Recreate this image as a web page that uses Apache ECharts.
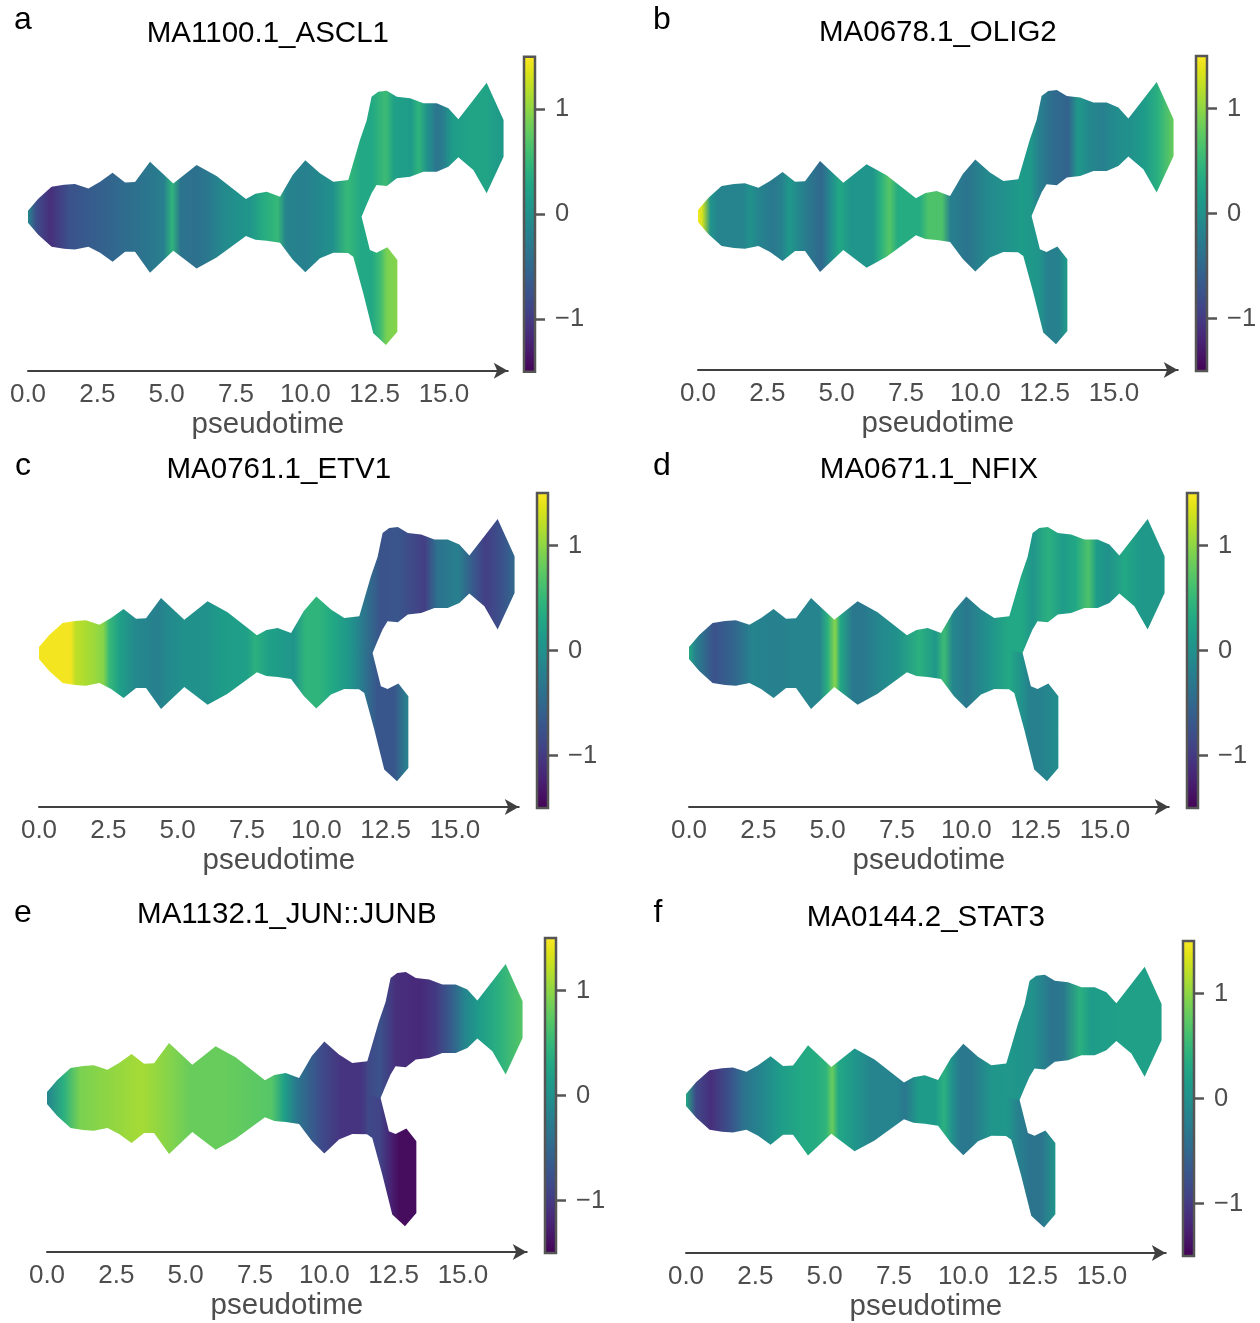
<!DOCTYPE html>
<html><head><meta charset="utf-8">
<script src="https://cdn.jsdelivr.net/npm/echarts@6/dist/echarts.min.js"></script>
<style>html,body{margin:0;padding:0;background:#fff}#main{width:1260px;height:1323px}</style>
</head><body><div id="main"></div>
<script>
// ---------- DATA ----------
const panelTitles = ['MA1100.1_ASCL1','MA0678.1_OLIG2','MA0761.1_ETV1','MA0671.1_NFIX','MA1132.1_JUN::JUNB','MA0144.2_STAT3'];
const panelLetters = ['a','b','c','d','e','f'];
const xTickValues = [0, 2.5, 5, 7.5, 10, 12.5, 15];
const colorbarTicks = [-1, 0, 1];

// stream outline (pseudotime, offset from trunk centre), shared by all panels
const trunkTopEdge = [[0,6],[0.37,18],[0.85,30],[1.3,32],[1.69,32.7],[2.18,28.3],[2.6,35],[3.05,44],[3.5,34.3],[3.86,34.7],[4.4,55],[5.24,33.3],[6.08,51.7],[6.8,40.7],[7.86,17.7],[8.2,23],[8.61,25],[9.09,20],[9.55,42],[10.0,56.5],[10.53,43.4],[11.01,35],[11.55,36.7],[11.7,38]];
const trunkBottomEdge = [[0,-6],[0.37,-18],[0.85,-30],[1.3,-32],[1.69,-32.7],[2.18,-30],[2.6,-36],[3.05,-45],[3.5,-35],[3.86,-35],[4.4,-56],[5.24,-34],[6.08,-51.7],[6.8,-40.7],[7.86,-19.3],[8.2,-23],[8.61,-24],[9.09,-26],[9.55,-43],[10.0,-55.5],[10.53,-41.6],[11.01,-36],[11.55,-36.3],[11.7,-39]];
const upperTopEdge = [[11.55,36.7],[11.97,76.7],[12.21,96],[12.39,120],[12.63,125],[12.94,126],[13.3,120],[13.78,118.4],[14.26,113.4],[14.74,113.4],[15.16,108.4],[15.52,97.4],[16.06,116.7],[16.54,134],[17.15,96.7]];
const upperBottomEdge = [[11.55,-3],[12.03,0],[12.21,12],[12.39,23.4],[12.57,31.7],[12.94,30.7],[13.3,38.4],[13.78,40],[14.26,45],[14.74,45],[15.16,50],[15.52,59.4],[16.06,46.7],[16.54,23.4],[17.15,60]];
const lowerTopEdge = [[11.55,3],[12.03,0],[12.33,-33.3],[12.57,-36],[12.96,-30.6],[13.32,-43.3]];
const lowerBottomEdge = [[11.55,-36.3],[11.73,-40],[12.09,-76.6],[12.45,-116.6],[12.91,-128.3],[13.32,-115]];

// colour values along pseudotime [t, z-score] per panel and branch
const ascl1Trunk = [[0,-0.15],[0.3,-0.8],[0.8,-1.1],[1.5,-0.75],[2.5,-0.6],[3.5,-0.45],[4.5,-0.3],[4.9,-0.2],[5.2,0.45],[5.5,-0.35],[6.0,-0.4],[6.5,-0.3],[7.0,-0.1],[7.5,0],[8.0,0.05],[8.5,0.35],[9.0,0.5],[9.3,-0.15],[10.0,-0.2],[10.5,-0.1],[11.0,0],[11.5,0.5],[11.7,0.3]];
const ascl1Upper = [[11.55,0.5],[12.0,0.3],[12.4,0.3],[12.9,0.55],[13.2,0.2],[13.8,0.15],[14.1,0.45],[14.4,0],[14.75,-0.35],[15.0,-0.2],[15.3,0.15],[16.0,0.25],[16.5,0.25],[17.15,0.1]];
const ascl1Lower = [[11.55,0.5],[12.0,0.3],[12.4,0.3],[12.7,0.55],[12.95,0.9],[13.32,0.95]];

const olig2Trunk = [[0,1.45],[0.15,1.3],[0.45,0.05],[0.7,-0.15],[1.6,-0.15],[1.9,0],[2.2,-0.15],[2.7,-0.3],[3.0,-0.2],[3.3,0.1],[3.6,-0.1],[4.1,-0.35],[4.45,-0.5],[4.8,-0.05],[5.1,0.3],[5.5,0.05],[6.3,0.05],[6.6,0.4],[6.9,0.7],[7.2,0.35],[8.0,0.35],[8.3,0.65],[8.8,0.65],[9.1,-0.2],[9.7,-0.35],[10.4,-0.1],[11.0,0],[11.5,0.1],[11.7,0.15]];
const olig2Upper = [[11.55,0.15],[12.0,0.1],[12.3,-0.2],[12.8,-0.45],[13.35,-0.55],[13.7,0.1],[14.1,-0.1],[14.6,-0.2],[15.1,-0.05],[15.6,0],[16.1,0.15],[16.6,0.4],[17.15,0.8]];
const olig2Lower = [[11.55,0.15],[12.0,0.1],[12.3,0.05],[12.6,-0.2],[13.0,-0.2],[13.32,0.15]];

const etv1Trunk = [[0,1.45],[1.15,1.45],[1.32,1.2],[2.0,1.05],[2.32,0.95],[2.54,0.5],[2.9,0.2],[3.5,-0.1],[4.3,-0.2],[4.6,-0.1],[5.2,0],[6.0,0],[6.6,0.15],[7.5,0.2],[7.8,0.4],[8.3,0.2],[9.2,0.05],[9.6,0.45],[10.1,0.45],[10.6,0.3],[11.2,0.05],[11.7,-0.25]];
const etv1Upper = [[11.55,-0.2],[12.35,-0.75],[12.9,-0.7],[13.5,-0.85],[13.9,-0.95],[14.35,-0.4],[14.7,-0.3],[15.1,-0.2],[15.7,-0.7],[16.1,-0.95],[16.7,-0.75],[17.15,-0.5]];
const etv1Lower = [[11.55,-0.2],[12.2,-0.7],[12.8,-0.7],[13.32,-0.15]];

const nfixTrunk = [[0,0.3],[0.25,-0.2],[0.9,-0.75],[1.7,-0.5],[2.3,-0.15],[3.1,-0.2],[3.7,-0.15],[4.7,-0.15],[5.0,0.4],[5.27,0.95],[5.45,0.3],[5.9,-0.3],[6.3,-0.3],[6.9,-0.1],[7.5,0],[8.3,0.4],[8.9,0.1],[9.2,0.55],[9.5,-0.1],[10.0,-0.3],[10.8,0],[11.5,0.3],[11.7,0.3]];
const nfixUpper = [[11.55,0.3],[12.0,0.3],[12.4,0.05],[12.95,0.4],[13.5,0.15],[13.95,0.3],[14.4,0.65],[14.7,0.15],[15.1,0],[15.7,0.3],[16.3,0.1],[17.15,0.1]];
const nfixLower = [[11.55,0.3],[12.0,0.0],[12.3,-0.2],[12.6,-0.2],[13.32,-0.05]];

const junbTrunk = [[0,-0.15],[0.6,0.4],[1.2,0.9],[2.3,1.0],[3.4,1.1],[4.4,0.95],[5.2,0.8],[6.4,0.8],[7.3,0.75],[8.1,0.7],[8.55,0.2],[9.0,-0.3],[9.3,-0.5],[9.85,-0.8],[10.6,-1.05],[11.3,-1.05],[11.7,-0.85]];
const junbUpper = [[11.55,-0.85],[12.0,-0.75],[12.6,-1.1],[13.45,-1.15],[14.0,-1.0],[14.6,-0.6],[15.05,-0.15],[15.6,0.15],[16.3,0.4],[17.15,0.7]];
const junbLower = [[11.55,-0.85],[12.0,-0.9],[12.45,-1.25],[12.7,-1.4],[13.32,-1.4]];

const stat3Trunk = [[0,0.3],[0.36,-0.85],[0.9,-1.1],[1.66,-0.7],[2.1,-0.35],[2.67,-0.15],[3.4,0.15],[4.1,0.3],[4.7,0.35],[5.05,0.45],[5.27,0.8],[5.5,0.3],[6.1,0.05],[6.7,-0.15],[7.6,-0.15],[7.9,-0.3],[8.4,0.15],[9.0,0.15],[9.3,0.4],[9.6,0.0],[9.9,-0.3],[10.3,-0.3],[11.0,0.05],[11.7,0.1]];
const stat3Upper = [[11.55,0.1],[12.0,0.05],[12.5,0],[13.2,-0.35],[13.6,-0.3],[14.2,0.4],[14.6,0.15],[15.65,0.2],[17.15,0.2]];
const stat3Lower = [[11.55,0.1],[12.0,-0.2],[12.4,-0.35],[12.8,-0.35],[13.32,0.05]];

// ---------- RENDERING ----------
const panelColours = [
  [ascl1Trunk, ascl1Upper, ascl1Lower],
  [olig2Trunk, olig2Upper, olig2Lower],
  [etv1Trunk, etv1Upper, etv1Lower],
  [nfixTrunk, nfixUpper, nfixLower],
  [junbTrunk, junbUpper, junbLower],
  [stat3Trunk, stat3Upper, stat3Lower]
];
const branchEdges = [
  [trunkTopEdge, trunkBottomEdge],
  [upperTopEdge, upperBottomEdge],
  [lowerTopEdge, lowerBottomEdge]
];
const LAYOUT = [
  {x0:28, axisY:370.7, cbLeft:524, letter:[23,20]},
  {x0:698, axisY:370, cbLeft:1196, letter:[662,20]},
  {x0:39, axisY:807, cbLeft:537, letter:[23,466]},
  {x0:689, axisY:807, cbLeft:1187, letter:[662,466]},
  {x0:47, axisY:1252, cbLeft:545, letter:[23,913]},
  {x0:686, axisY:1255, cbLeft:1183, letter:[658,913]}
];
const XMAX = 17.3, PX_PER_UNIT = 27.73, YMIN = -154, YMAX = 160;
const FONT = '"Liberation Sans", Arial, sans-serif';
const GRAY = '#4d4d4d';

const VIRIDIS = ['#440154','#471365','#482475','#463480','#414487','#3b528b','#355f8d','#2f6c8e','#2a788e','#25848e','#21918c','#1e9c89','#22a884','#2fb47c','#44bf70','#5ec962','#7ad151','#9bd93c','#bddf26','#dfe318','#fde725'];
function hex2rgb(h){return [parseInt(h.slice(1,3),16),parseInt(h.slice(3,5),16),parseInt(h.slice(5,7),16)];}
const VRGB = VIRIDIS.map(hex2rgb);
function viridis(v){
  let p = (v + 1.5) / 3; p = Math.max(0, Math.min(1, p));
  const f = p * (VRGB.length - 1), i = Math.min(Math.floor(f), VRGB.length - 2), r = f - i;
  const a = VRGB[i], b = VRGB[i+1];
  return 'rgb(' + [0,1,2].map(k => Math.round(a[k] + (b[k]-a[k])*r)).join(',') + ')';
}

function streamRenderer(colours){
  return function(params, api){
    const children = branchEdges.map((edges, k) => {
      const top = edges[0], bot = edges[1];
      const pts = top.map(p => api.coord(p)).concat(bot.slice().reverse().map(p => api.coord(p)));
      const cs = colours[k];
      const x0 = api.coord([cs[0][0], 0])[0], x1 = api.coord([cs[cs.length-1][0], 0])[0];
      const stops = cs.map(([t, v]) => ({offset: Math.max(0, Math.min(1, (api.coord([t,0])[0] - x0) / (x1 - x0))), color: viridis(v)}));
      return {type:'polygon', shape:{points: pts}, style:{fill: new echarts.graphic.LinearGradient(x0, 0, x1, 0, stops, true), stroke: null}};
    });
    return {type:'group', children};
  };
}
function colorbarRenderer(params, api){
  const a = api.coord([0, 1.5]), b = api.coord([1, -1.5]);
  const stops = VIRIDIS.slice().reverse().map((c, i, arr) => ({offset: i/(arr.length-1), color: c}));
  return {type:'rect', shape:{x:a[0], y:a[1], width:b[0]-a[0], height:b[1]-a[1]},
    style:{fill: new echarts.graphic.LinearGradient(0,0,0,1,stops), stroke:'#555', lineWidth:2.5}};
}
const fmtMinus = v => v < 0 ? '\u2212' + Math.abs(v) : String(v);

const grid = [], xAxis = [], yAxis = [], series = [], graphic = [];
LAYOUT.forEach((L, i) => {
  const w = XMAX * PX_PER_UNIT;
  grid.push({left: L.x0, top: L.axisY - (YMAX - YMIN), width: w, height: YMAX - YMIN});
  xAxis.push({gridIndex:i, type:'value', min:0, max:XMAX,
    axisLine:{show:true, onZero:false, symbol:['none','arrow'], symbolSize:[12,14], lineStyle:{color:'#404040', width:2}},
    axisTick:{show:false}, splitLine:{show:false},
    axisLabel:{customValues:xTickValues, fontSize:26, color:GRAY, fontFamily:FONT, margin:11, formatter: v => Number(v).toFixed(1)},
    name:'pseudotime', nameLocation:'middle', nameGap:39, nameTextStyle:{fontSize:29.5, color:GRAY, fontFamily:FONT}});
  yAxis.push({gridIndex:i, type:'value', min:YMIN, max:YMAX, show:false});
  series.push({type:'custom', xAxisIndex:i, yAxisIndex:i, data:[[0,0]], renderItem: streamRenderer(panelColours[i]), clip:false, silent:true, animation:false});
  graphic.push({type:'text', x: L.x0 + w/2, y: L.axisY - 336.7, style:{text: panelTitles[i], font: '29.5px ' + FONT, fill:'#000', align:'center', verticalAlign:'middle'}});
  graphic.push({type:'text', x: L.letter[0], y: L.letter[1], style:{text: panelLetters[i], font: '32px ' + FONT, fill:'#000', align:'center', verticalAlign:'middle'}});
});
LAYOUT.forEach((L, i) => {
  const gi = 6 + i;
  grid.push({left: L.cbLeft, top: L.axisY + 1 - 315, width: 11, height: 315});
  xAxis.push({gridIndex:gi, type:'value', min:0, max:1, show:false});
  yAxis.push({gridIndex:gi, type:'value', min:-1.5, max:1.5, position:'right',
    axisLine:{show:false, onZero:false}, splitLine:{show:false},
    axisTick:{show:true, customValues:colorbarTicks, length:10, lineStyle:{color:'#555', width:2.5}},
    axisLabel:{customValues:colorbarTicks, fontSize:25.5, color:GRAY, fontFamily:FONT, margin:20, formatter: fmtMinus}});
  series.push({type:'custom', xAxisIndex:gi, yAxisIndex:gi, data:[[0,0]], renderItem: colorbarRenderer, clip:false, silent:true, animation:false});
});

const chart = echarts.init(document.getElementById('main'), null, {renderer:'canvas'});
chart.setOption({backgroundColor:'#fff', animation:false, textStyle:{fontFamily:FONT}, grid, xAxis, yAxis, series, graphic});
</script></body></html>
